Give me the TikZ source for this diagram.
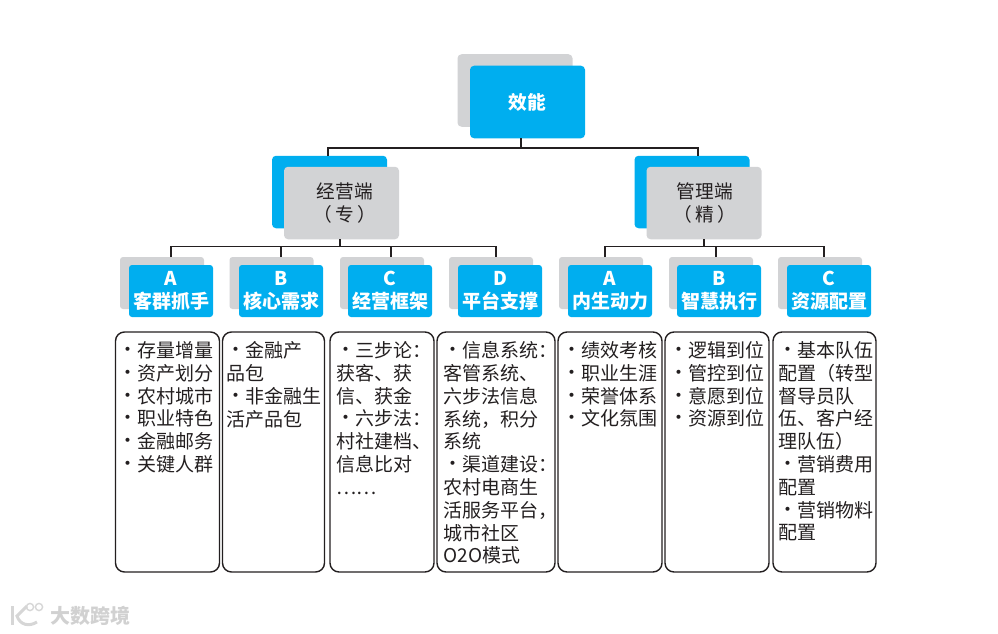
\documentclass[tikz,border=0pt]{standalone}
\usepackage{fontspec}
\usepackage{xcolor}
\usetikzlibrary{positioning}
\setmainfont{Noto Sans CJK SC}
\definecolor{skyblue}{HTML}{00AEEF}
\definecolor{boxgray}{HTML}{D2D3D5}
\definecolor{inkblack}{HTML}{231F20}
\newcommand{\bul}{\makebox[18.7pt]{\raisebox{1pt}{·}}}
\tikzset{
  bluebox/.style={fill=skyblue,rounded corners=4pt,inner sep=0pt,align=center,text=white,font=\fontsize{18.7}{23}\selectfont},
  graybox/.style={fill=boxgray,rounded corners=4pt,inner sep=0pt,align=center,text=inkblack,font=\fontsize{18.7}{23}\selectfont},
  bigbox/.style={minimum width=115pt,minimum height=72.5pt},
  smallbox/.style={minimum width=84pt,minimum height=52pt,rounded corners=3pt},
  smalltext/.style={font=\fontsize{19}{23}\selectfont\bfseries},
  cardbox/.style={draw=inkblack,line width=1.4pt,rounded corners=9pt,minimum height=240pt,inner sep=0pt},
  cardtext/.style={inner sep=0pt,align=left,text=inkblack,font=\fontsize{19}{22.8}\selectfont},
  conn/.style={draw=inkblack,line width=1.8pt},
  brandtext/.style={text=black!18,font=\fontsize{20}{20}\selectfont\bfseries,inner sep=0pt}
}
\begin{document}
\begin{tikzpicture}[x=1pt,y=-1pt]
    \useasboundingbox (0,0) rectangle (998,634);
    % top level
    \node[graybox,bigbox] (rootback) at (515,90.5) {};
    \node[bluebox,bigbox,font=\fontsize{18.7}{23}\selectfont\bfseries] (root) at (527.5,102) {效能};
    \node[bluebox,bigbox] (opsback) at (329.5,192) {};
    \node[graybox,bigbox] (ops) at (341.5,203) {\hspace*{7pt}经营端\\\hspace*{7pt}（\hspace{3pt}专\hspace{3pt}）};
    \node[bluebox,bigbox] (mgtback) at (692,192) {};
    \node[graybox,bigbox] (mgt) at (704,203) {\hspace*{2pt}管理端\\\hspace*{2pt}（\hspace{3pt}精\hspace{3pt}）};
    % second level, gray behind blue
    \node[graybox,smallbox] (ob1) at (162,283) {};
    \node[graybox,smallbox] (ob2) at (271.5,283) {};
    \node[graybox,smallbox] (ob3) at (382,283) {};
    \node[graybox,smallbox] (ob4) at (491,283) {};
    \node[graybox,smallbox] (mb1) at (601,283) {};
    \node[graybox,smallbox] (mb2) at (711,283) {};
    \node[graybox,smallbox] (mb3) at (820,283) {};
    \node[bluebox,smallbox,smalltext] (o1) at (171,291) {A\\客群抓手};
    \node[bluebox,smallbox,smalltext] (o2) at (281,291) {B\\核心需求};
    \node[bluebox,smallbox,smalltext] (o3) at (390,291) {C\\经营框架};
    \node[bluebox,smallbox,smalltext] (o4) at (500,291) {D\\平台支撑};
    \node[bluebox,smallbox,smalltext] (m1) at (610,291) {A\\内生动力};
    \node[bluebox,smallbox,smalltext] (m2) at (719,291) {B\\智慧执行};
    \node[bluebox,smallbox,smalltext] (m3) at (829,291) {C\\资源配置};
    % connectors
    \coordinate (bus0) at (521,148);
    \coordinate (busl) at (340,246.5);
    \coordinate (busr) at (704,246.5);
    \coordinate (opstop) at (328,156);
    \coordinate (mgttop) at (698,156);
    \coordinate (t1) at (171,257);
    \coordinate (t2) at (281,257);
    \coordinate (t3) at (391,257);
    \coordinate (t4) at (496,257);
    \coordinate (t5) at (605,257);
    \coordinate (t6) at (716,257);
    \coordinate (t7) at (824,257);
    \draw[conn] (root.south -| bus0) -- (bus0);
    \draw[conn] (opstop) |- (bus0) -| (mgttop);
    \draw[conn] (ops.south -| busl) -- (busl);
    \draw[conn] (mgt.south -| busr) -- (busr);
    \draw[conn] (t1) |- (busl) -| (t4);
    \draw[conn] (t2) -- (t2 |- busl);
    \draw[conn] (t3) -- (t3 |- busl);
    \draw[conn] (t5) |- (busr) -| (t7);
    \draw[conn] (t6) -- (t6 |- busr);
    % cards
    \node[cardbox,minimum width=104pt] (card1) at (167.5,452) {};
    \node[cardbox,minimum width=102pt] (card2) at (273.5,452) {};
    \node[cardbox,minimum width=104pt] (card3) at (382,452) {};
    \node[cardbox,minimum width=118pt] (card4) at (496,452) {};
    \node[cardbox,minimum width=104pt] (card5) at (610,452) {};
    \node[cardbox,minimum width=104pt] (card6) at (717,452) {};
    \node[cardbox,minimum width=103pt] (card7) at (824.5,452) {};
    \node[cardtext,below right=10pt and 3.5pt of card1.north west] (text1) {\bul 存量增量\\\bul 资产划分\\\bul 农村城市\\\bul 职业特色\\\bul 金融邮务\\\bul 关键人群};
    \node[cardtext,below right=10pt and 4.5pt of card2.north west] (text2) {\bul 金融产\\品包\\\bul 非金融生\\活产品包};
    \node[cardtext,below right=10pt and 7pt of card3.north west] (text3) {\bul 三步论：\\获客、获\\信、获金\\\bul 六步法：\\村社建档、\\信息比对\\……};
    \node[cardtext,below right=10pt and 7pt of card4.north west] (text4) {\bul 信息系统：\\客管系统、\\六步法信息\\系统，积分\\系统\\\bul 渠道建设：\\农村电商生\\活服务平台，\\城市社区\\O2O模式};
    \node[cardtext,below right=10pt and 5pt of card5.north west] (text5) {\bul 绩效考核\\\bul 职业生涯\\\bul 荣誉体系\\\bul 文化氛围};
    \node[cardtext,below right=10pt and 5pt of card6.north west] (text6) {\bul 逻辑到位\\\bul 管控到位\\\bul 意愿到位\\\bul 资源到位};
    \node[cardtext,below right=10pt and 6pt of card7.north west] (text7) {\bul 基本队伍\\配置（转型\\督导员队\\伍、客户经\\理队伍）\\\bul 营销费用\\配置\\\bul 营销物料\\配置};
    % watermark
    \node[brandtext] (brand) at (90,616) {大数跨境};
    \draw[black!16,line width=3pt] (12,606) -- (12,625);
    \draw[black!16,line width=3pt] (27,606) -- (17,616) .. controls (20,625) and (29,627) .. (37,622);
    \draw[black!16,line width=1.4pt] (30,607) circle (3.6pt);
    \draw[black!16,line width=1.4pt] (39,607) circle (3.6pt);
\end{tikzpicture}
\end{document}
